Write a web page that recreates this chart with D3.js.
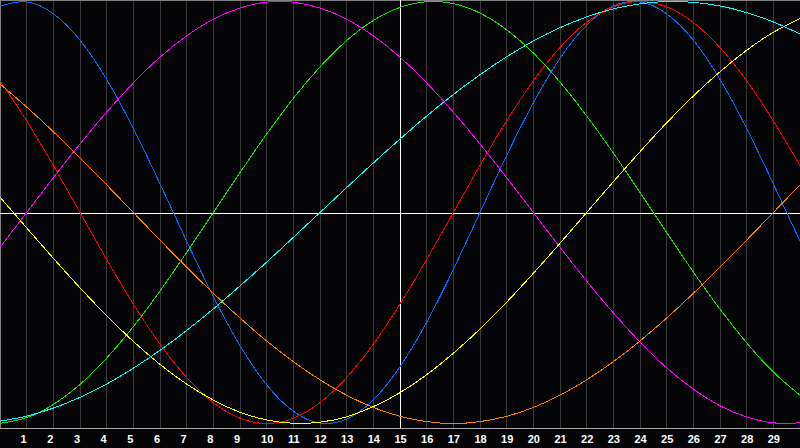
<!DOCTYPE html>
<html>
<head>
<meta charset="utf-8">
<script src="https://cdn.jsdelivr.net/npm/d3@7"></script>
<style>
html,body{margin:0;padding:0;background:#050508;overflow:hidden}
svg{display:block}
</style>
</head>
<body>
<svg id="chart" width="800" height="448"></svg>
<script>
// ---- data (-1 .. 1, one per day) ----
const days = [0,1,2,3,4,5,6,7,8,9,10,11,12,13,14,15,16,17,18,19,20,21,22,23,24,25,26,27,28,29,30];
const dayLabels = ["1","2","3","4","5","6","7","8","9","10","11","12","13","14","15","16","17","18","19","20","21","22","23","24","25","26","27","28","29"];
const todayDay = 15;

const physical = [0.979,0.998,0.942,0.817,0.631,0.398,0.136,-0.136,-0.398,-0.631,-0.817,-0.942,-0.998,-0.979,-0.888,-0.731,-0.520,-0.270,0.000,0.270,0.520,0.731,0.888,0.979,0.998,0.942,0.817,0.631,0.398,0.136,-0.136];
const emotional = [0.624,0.434,0.223,0.000,-0.223,-0.434,-0.624,-0.782,-0.901,-0.975,-1.000,-0.975,-0.901,-0.782,-0.624,-0.434,-0.223,0.000,0.223,0.434,0.624,0.782,0.901,0.975,1.000,0.975,0.901,0.782,0.624,0.434,0.223];
const intellectual = [-0.999,-0.972,-0.910,-0.815,-0.690,-0.541,-0.372,-0.189,0.000,0.189,0.372,0.541,0.690,0.815,0.910,0.972,0.999,0.990,0.945,0.866,0.756,0.618,0.458,0.282,0.095,-0.095,-0.282,-0.458,-0.618,-0.756,-0.866];
const intuitive = [-0.165,0.000,0.165,0.325,0.476,0.614,0.736,0.837,0.916,0.969,0.997,0.997,0.969,0.916,0.837,0.736,0.614,0.476,0.325,0.165,0.000,-0.165,-0.325,-0.476,-0.614,-0.736,-0.837,-0.916,-0.969,-0.997,-0.997];
const aesthetic = [0.073,-0.073,-0.217,-0.357,-0.489,-0.611,-0.720,-0.813,-0.889,-0.947,-0.983,-0.999,-0.994,-0.968,-0.920,-0.854,-0.769,-0.667,-0.552,-0.425,-0.288,-0.146,0.000,0.146,0.288,0.425,0.552,0.667,0.769,0.854,0.920];
const awareness = [0.609,0.500,0.383,0.259,0.131,0.000,-0.131,-0.259,-0.383,-0.500,-0.609,-0.707,-0.793,-0.866,-0.924,-0.966,-0.991,-1.000,-0.991,-0.966,-0.924,-0.866,-0.793,-0.707,-0.609,-0.500,-0.383,-0.259,-0.131,0.000,0.131];
const spiritual = [-0.989,-0.965,-0.927,-0.876,-0.813,-0.738,-0.653,-0.559,-0.457,-0.348,-0.235,-0.118,0.000,0.118,0.235,0.348,0.457,0.559,0.653,0.738,0.813,0.876,0.927,0.965,0.989,1.000,0.996,0.979,0.947,0.903,0.846];

const seriesNames = ["physical","emotional","intellectual","intuitive","aesthetic","awareness","spiritual"];
const seriesValues = [physical, emotional, intellectual, intuitive, aesthetic, awareness, spiritual];
const seriesColors = ["#0a6cff","#ff0000","#1ee000","#ff00ff","#ffff00","#ff8000","#00ffff"];

// ---- drawing ----
const W = 800, H = 448, plotBottom = 428;
const svg = d3.select("#chart");
const x = d3.scaleLinear().domain([0, 30]).range([0, W]);
const y = d3.scaleLinear().domain([-1, 1]).range([423.5, 1.5]);
const snap = v => Math.floor(v) + 0.5;

svg.append("rect").attr("width", W).attr("height", H).attr("fill", "#050508");

// vertical day grid
const tickDays = dayLabels.map(Number);
svg.append("g").selectAll("line").data(tickDays).join("line")
  .attr("x1", d => snap(x(d))).attr("x2", d => snap(x(d)))
  .attr("y1", 0).attr("y2", plotBottom)
  .attr("stroke", "#3a3a3a").attr("stroke-width", 1)
  .attr("shape-rendering", "crispEdges");

// frame (top / left) and bottom axis line
const frame = svg.append("g").attr("shape-rendering", "crispEdges");
frame.append("line").attr("x1", 0).attr("x2", W).attr("y1", 0.5).attr("y2", 0.5).attr("stroke", "#808080");
frame.append("line").attr("x1", 0.5).attr("x2", 0.5).attr("y1", 0).attr("y2", plotBottom).attr("stroke", "#808080");
frame.append("line").attr("x1", 0).attr("x2", W).attr("y1", plotBottom + 0.5).attr("y2", plotBottom + 0.5).attr("stroke", "#a8a8a8");

// zero line and today line
frame.append("line").attr("x1", 0).attr("x2", W)
  .attr("y1", Math.floor(y(0)) + 1.5).attr("y2", Math.floor(y(0)) + 1.5)
  .attr("stroke", "#ffffff");
frame.append("line").attr("x1", snap(x(todayDay))).attr("x2", snap(x(todayDay)))
  .attr("y1", 0).attr("y2", plotBottom)
  .attr("stroke", "#ffffff");

// curves
const line = d3.line()
  .x((d, i) => x(days[i]))
  .y(d => y(d))
  .curve(d3.curveNatural);

svg.append("g").selectAll("path").data(seriesValues).join("path")
  .attr("d", d => line(d))
  .attr("fill", "none")
  .attr("stroke", (d, i) => seriesColors[i])
  .attr("stroke-width", 1)
  .attr("shape-rendering", "crispEdges");

// day labels
svg.append("g").selectAll("text").data(dayLabels).join("text")
  .attr("x", d => x(+d) + (d.length === 1 ? -3 : 0.5))
  .attr("y", 443)
  .attr("text-anchor", "middle")
  .attr("fill", "#ffffff")
  .attr("font-family", "'Liberation Sans', Arial, sans-serif")
  .attr("font-weight", "bold")
  .attr("font-size", "11px")
  .text(d => d);
</script>
</body>
</html>
